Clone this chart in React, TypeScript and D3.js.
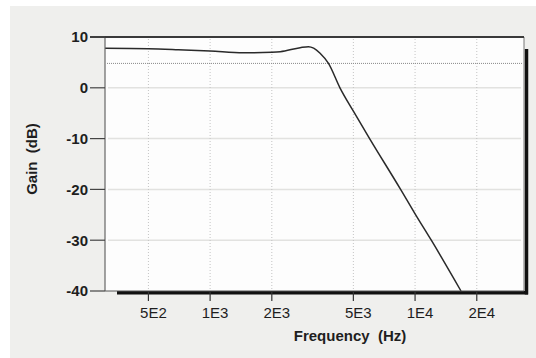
import { useEffect, useRef } from "react";
import * as d3 from "d3";

// frequency response
const freqs = [307, 500, 700, 1000, 1450, 2000, 2200, 2750, 3020, 3200, 3440, 3780, 4300, 5000, 6000, 8500, 10000, 12000, 16750];
const gains = [7.8, 7.7, 7.5, 7.25, 6.9, 7.0, 7.1, 7.9, 8.1, 7.8, 6.8, 4.8, 0, -4.6, -10, -20, -24.8, -30, -40];

const xTicks = [500, 1000, 2000, 5000, 10000, 20000];
const xTickLabels = ["5E2", "1E3", "2E3", "5E3", "1E4", "2E4"];
const yTicks = [10, 0, -10, -20, -30, -40];
const refLevel = 4.8;

const App = () => {
  const chartRef = useRef<HTMLDivElement>(null);

  useEffect(() => {
    const root = d3.select(chartRef.current);
    root.selectAll("*").remove();

    const width = 536;
    const height = 358;
    const margin = { top: 37, right: 12, bottom: 67, left: 105 };
    const font = "Arial, 'Liberation Sans', sans-serif";

    const x = d3
      .scaleLog()
      .domain([307, 34000])
      .range([margin.left, width - margin.right]);

    const y = d3
      .scaleLinear()
      .domain([-40, 10])
      .range([height - margin.bottom, margin.top]);

    const svg = root
      .append("svg")
      .attr("width", width)
      .attr("height", height)
      .style("position", "absolute")
      .style("left", "0px")
      .style("top", "0px");

    // background
    svg.append("rect").attr("width", width).attr("height", height).attr("fill", "#ffffff");
    svg.append("rect").attr("x", 10).attr("y", 6).attr("width", width - 10).attr("height", height - 6).attr("fill", "#efefed");

    const x0 = x.range()[0];
    const x1 = x.range()[1];
    const y0 = y.range()[0];
    const y1 = y.range()[1];

    // shadow
    svg.append("line").attr("x1", x0 + 12).attr("x2", x1 + 4).attr("y1", y0 + 1.8).attr("y2", y0 + 1.8)
      .attr("stroke", "#111").attr("stroke-width", 3.5);
    svg.append("line").attr("x1", x1 + 2.5).attr("x2", x1 + 2.5).attr("y1", y1 + 12).attr("y2", y0 + 3.5)
      .attr("stroke", "#111").attr("stroke-width", 3.5);

    // plot area
    svg.append("rect").attr("x", x0).attr("y", y1).attr("width", x1 - x0).attr("height", y0 - y1).attr("fill", "#fdfdfd");

    // horizontal grid
    svg.append("g")
      .selectAll("line")
      .data(yTicks.filter((d) => d !== 10 && d !== -40))
      .join("line")
      .attr("x1", x0 + 3)
      .attr("x2", x1 - 3)
      .attr("y1", (d) => y(d))
      .attr("y2", (d) => y(d))
      .attr("stroke", "#e2e2e0")
      .attr("stroke-width", 1.5);

    // vertical grid
    svg.append("g")
      .selectAll("line")
      .data(xTicks)
      .join("line")
      .attr("x1", (d) => x(d))
      .attr("x2", (d) => x(d))
      .attr("y1", y1 + 2)
      .attr("y2", y0)
      .attr("stroke", "#c4c4c4")
      .attr("stroke-width", 1)
      .attr("stroke-dasharray", "1,2");

    // reference line
    svg.append("line")
      .attr("x1", x0 + 2)
      .attr("x2", x1 - 2)
      .attr("y1", y(refLevel))
      .attr("y2", y(refLevel))
      .attr("stroke", "#8a8a8a")
      .attr("stroke-width", 1)
      .attr("stroke-dasharray", "1,1");

    // curve
    const line = d3
      .line<number>()
      .x((d, i) => x(freqs[i]))
      .y((d) => y(d))
      .curve(d3.curveMonotoneX);

    svg.append("path")
      .datum(gains)
      .attr("d", line)
      .attr("fill", "none")
      .attr("stroke", "#2a2a2a")
      .attr("stroke-width", 1.5);

    // frame
    svg.append("line").attr("x1", x0).attr("x2", x0).attr("y1", y1).attr("y2", y0).attr("stroke", "#666").attr("stroke-width", 1.2);
    svg.append("line").attr("x1", x1).attr("x2", x1).attr("y1", y1).attr("y2", y0).attr("stroke", "#777").attr("stroke-width", 1);
    svg.append("line").attr("x1", x0 - 15).attr("x2", x1).attr("y1", y1).attr("y2", y1).attr("stroke", "#3a3a3a").attr("stroke-width", 2);
    svg.append("line").attr("x1", x0).attr("x2", x1).attr("y1", y0).attr("y2", y0).attr("stroke", "#555").attr("stroke-width", 1);

    // y axis
    const yAxis = svg.append("g");
    yAxis.selectAll("line")
      .data(yTicks)
      .join("line")
      .attr("x1", x0 - 15)
      .attr("x2", x0)
      .attr("y1", (d) => y(d))
      .attr("y2", (d) => y(d))
      .attr("stroke", "#444")
      .attr("stroke-width", 1.2);
    yAxis.selectAll("text")
      .data(yTicks)
      .join("text")
      .attr("x", x0 - 17)
      .attr("y", (d) => y(d))
      .attr("dy", "0.36em")
      .attr("text-anchor", "end")
      .attr("font-family", font)
      .attr("font-size", 15)
      .attr("font-weight", "bold")
      .attr("fill", "#1e1e1e")
      .text((d) => d);

    // x axis
    const xAxis = svg.append("g");
    xAxis.selectAll("line")
      .data(xTicks)
      .join("line")
      .attr("x1", (d) => x(d))
      .attr("x2", (d) => x(d))
      .attr("y1", y0)
      .attr("y2", y0 + 10)
      .attr("stroke", "#333")
      .attr("stroke-width", 1.2);
    xAxis.selectAll("text")
      .data(xTicks)
      .join("text")
      .attr("x", (d) => x(d) + 5)
      .attr("y", y0 + 27)
      .attr("text-anchor", "middle")
      .attr("font-family", font)
      .attr("font-size", 15)
      .attr("fill", "#1e1e1e")
      .text((d, i) => xTickLabels[i]);

    // titles
    svg.append("text")
      .attr("x", 350)
      .attr("y", 341)
      .attr("text-anchor", "middle")
      .attr("font-family", font)
      .attr("font-size", 15)
      .attr("font-weight", "bold")
      .attr("fill", "#1e1e1e")
      .style("white-space", "pre")
      .text("Frequency  (Hz)");

    svg.append("text")
      .attr("transform", "translate(37,159) rotate(-90)")
      .attr("text-anchor", "middle")
      .attr("font-family", font)
      .attr("font-size", 15)
      .attr("font-weight", "bold")
      .attr("fill", "#1e1e1e")
      .style("white-space", "pre")
      .text("Gain  (dB)");

    return () => {
      d3.select(chartRef.current).selectAll("*").remove();
    };
  }, []);

  return <div ref={chartRef}></div>;
};

export default App;
